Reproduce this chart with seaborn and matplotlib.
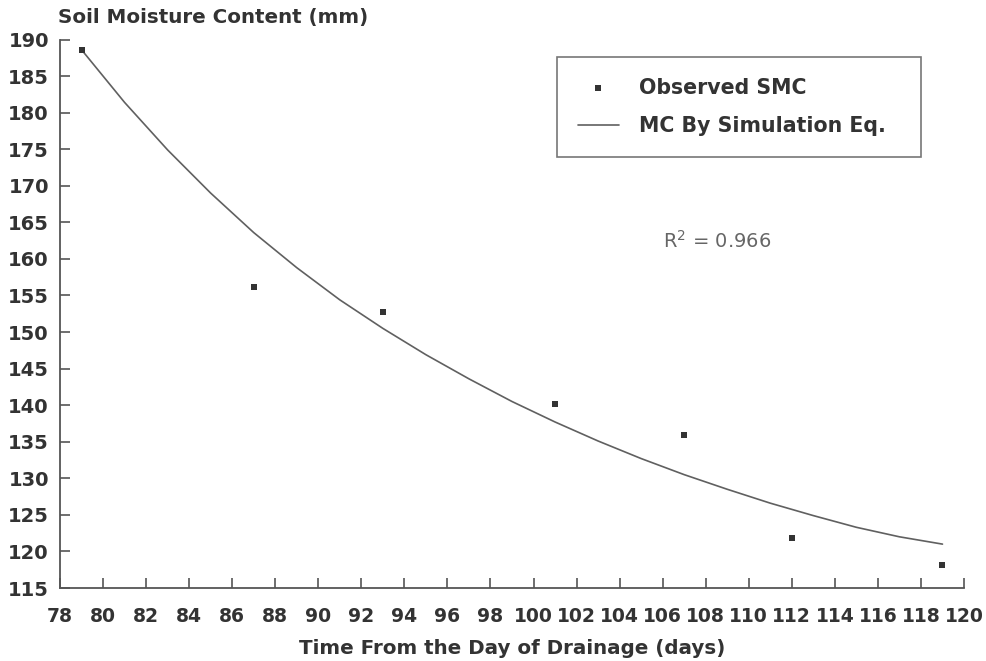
import matplotlib
matplotlib.use("Agg")
import matplotlib.pyplot as plt
import seaborn as sns
import pandas as pd

# Observed soil moisture content (mm) by day since drainage
obs_day = [79, 87, 93, 101, 107, 112, 119]
obs_smc = [188.6, 156.2, 152.8, 140.1, 135.9, 121.8, 118.2]

# Simulated moisture content curve
sim_day = [79, 81, 83, 85, 87, 89, 91, 93, 95, 97, 99, 101, 103, 105, 107,
           109, 111, 113, 115, 117, 119]
sim_mc = [188.6, 181.4, 174.9, 169.0, 163.6, 158.8, 154.4, 150.5, 146.9,
          143.6, 140.5, 137.7, 135.1, 132.7, 130.5, 128.5, 126.6, 124.9,
          123.3, 122.0, 121.0]

x_ticks = list(range(78, 121, 2))
y_ticks = list(range(115, 191, 5))

obs = pd.DataFrame({"day": obs_day, "smc": obs_smc})
sim = pd.DataFrame({"day": sim_day, "mc": sim_mc})

sns.set_theme(style="ticks")
plt.rcParams["font.family"] = ["DejaVu Sans"]

ink = "#333333"
axis_col = "#555555"

fig = plt.figure(figsize=(9.86, 6.61), dpi=100, facecolor="white")
ax = fig.add_axes([60 / 986, 1 - 588 / 661, 904 / 986, (588 - 39.5) / 661])
ax.set_facecolor("white")

sns.scatterplot(data=obs, x="day", y="smc", ax=ax, marker="s", s=20,
                color=ink, edgecolor=ink, linewidth=0, label="Observed SMC",
                zorder=3)
sns.lineplot(data=sim, x="day", y="mc", ax=ax, color="#606060", linewidth=1.2,
             label="MC By Simulation Eq.", zorder=2)

ax.set_xlim(78, 120)
ax.set_ylim(115, 190)
ax.set_xticks(x_ticks)
ax.set_yticks(y_ticks)
ax.set_xticklabels([str(t) for t in x_ticks])
ax.set_yticklabels([str(t) for t in y_ticks])

for side in ["top", "right"]:
    ax.spines[side].set_visible(False)
for side in ["left", "bottom"]:
    ax.spines[side].set_color(axis_col)
    ax.spines[side].set_linewidth(1.3)

ax.tick_params(axis="both", direction="in", length=7.5, width=1.2,
               color=axis_col, labelcolor=ink, labelsize=14)
ax.tick_params(axis="x", pad=14, labelsize=13.5)
ax.tick_params(axis="y", pad=8)
for lbl in ax.get_xticklabels() + ax.get_yticklabels():
    lbl.set_fontweight("bold")

ax.set_xlabel("Time From the Day of Drainage (days)", fontsize=14.3,
              fontweight="bold", color=ink, labelpad=9)
ax.set_ylabel("")
fig.text(58 / 986, 1 - 18 / 661, "Soil Moisture Content (mm)", fontsize=14.3,
         fontweight="bold", color=ink, ha="left", va="center")

ax.text(106.0, 161.5, "R$^2$ = 0.966", fontsize=14, color="#666666",
        ha="left", va="baseline")

leg = ax.legend(loc="upper left", bbox_to_anchor=(0.55, 0.778, 0.4027, 0.19),
                mode="expand", frameon=True, fancybox=False,
                edgecolor=axis_col, fontsize=14.8, handlelength=2.0,
                handletextpad=1.0, borderpad=1.0, labelspacing=0.9,
                borderaxespad=0, markerscale=0.9)
leg.get_frame().set_linewidth(1.2)
for t in leg.get_texts():
    t.set_fontweight("bold")
    t.set_color(ink)

fig.savefig("out.png", dpi=100, facecolor="white")
